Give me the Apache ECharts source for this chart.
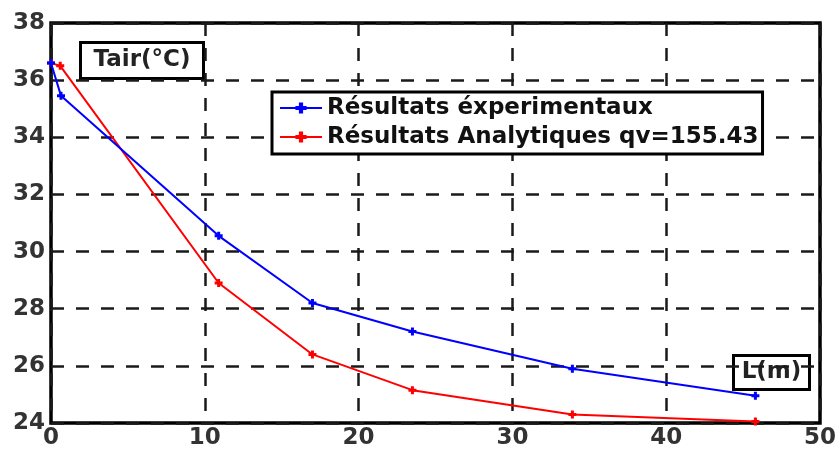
<!DOCTYPE html>
<html>
<head>
<meta charset="utf-8">
<script src="https://cdn.jsdelivr.net/npm/echarts@6/dist/echarts.min.js"></script>
<style>
  html, body { margin: 0; padding: 0; background: #fff; }
  #chart { width: 839px; height: 452px; }
</style>
</head>
<body>
<div id="chart"></div>
<script>
// Air temperature along the duct length: measurements vs analytical model
const distExp = [0, 0.65, 10.9, 17.0, 23.5, 33.9, 45.8];
const tempExp = [36.6, 35.45, 30.55, 28.2, 27.2, 25.9, 24.95];
const distAna = [0, 0.6, 10.9, 17.0, 23.5, 33.9, 45.8];
const tempAna = [36.6, 36.5, 28.9, 26.4, 25.15, 24.3, 24.05];

const seriesNames = ['Résultats éxperimentaux', 'Résultats Analytiques qv=155.43'];
const xTicks = { min: 0, max: 50, step: 10 };
const yTicks = { min: 24, max: 38, step: 2 };

const pairs = (xs, ys) => xs.map((x, i) => [x, ys[i]]);

const FONT = 'DejaVu Sans';
// chunky plus-shaped point marker
const plusMark = 'path://M2.5,0h3v2.5h2.5v3h-2.5v2.5h-3v-2.5h-2.5v-3h2.5z';
const gridLine = { color: '#1a1a1a', width: 2.5, type: [13, 12] };
const tickText = { color: '#333', fontSize: 23, fontWeight: 'bold', fontFamily: FONT };

const chart = echarts.init(document.getElementById('chart'), null, { renderer: 'canvas' });

chart.setOption({
  animation: false,
  backgroundColor: '#fff',
  textStyle: { fontFamily: FONT },
  grid: {
    left: 51, right: 19, top: 23, bottom: 29,
    show: true, borderColor: '#000', borderWidth: 3.5, backgroundColor: '#fff'
  },
  xAxis: {
    type: 'value',
    min: xTicks.min, max: xTicks.max, interval: xTicks.step,
    axisLine: { show: false },
    axisTick: { show: false },
    axisLabel: Object.assign({ margin: 4 }, tickText),
    splitLine: { show: true, lineStyle: gridLine }
  },
  yAxis: {
    type: 'value',
    min: yTicks.min, max: yTicks.max, interval: yTicks.step,
    axisLine: { show: false },
    axisTick: { show: false },
    axisLabel: Object.assign({ margin: 6 }, tickText),
    splitLine: { show: true, lineStyle: gridLine }
  },
  legend: {
    orient: 'vertical',
    left: 272, top: 92,
    padding: [4, 4, 5, 7],
    itemGap: 5,
    itemWidth: 42, itemHeight: 14,
    backgroundColor: '#fff',
    borderColor: '#000', borderWidth: 3,
    borderRadius: 0,
    textStyle: { color: '#111', fontSize: 23, fontWeight: 'bold', fontFamily: FONT, lineHeight: 24 },
    data: seriesNames
  },
  series: [
    {
      name: seriesNames[0],
      type: 'line',
      data: pairs(distExp, tempExp),
      color: '#0000ff',
      lineStyle: { color: '#0000ff', width: 2 },
      itemStyle: { color: '#0000ff' },
      symbol: plusMark, symbolSize: 8, showSymbol: true,
      z: 3
    },
    {
      name: seriesNames[1],
      type: 'line',
      data: pairs(distAna, tempAna),
      color: '#ff0000',
      lineStyle: { color: '#ff0000', width: 2 },
      itemStyle: { color: '#ff0000' },
      symbol: plusMark, symbolSize: 8, showSymbol: true,
      z: 2
    }
  ],
  graphic: [
    {
      type: 'group', left: 79, top: 41, z: 10,
      children: [
        { type: 'rect', shape: { x: 0, y: 0, width: 123, height: 36 },
          style: { fill: '#fff', stroke: '#000', lineWidth: 3 } },
        { type: 'text', x: 61.5, y: 18,
          style: { text: 'Tair(°C)', fill: '#222', font: 'bold 23px "DejaVu Sans"',
                   align: 'center', verticalAlign: 'middle' } }
      ]
    },
    {
      type: 'group', left: 732, top: 354, z: 10,
      children: [
        { type: 'rect', shape: { x: 0, y: 0, width: 76, height: 34 },
          style: { fill: '#fff', stroke: '#000', lineWidth: 3 } },
        { type: 'text', x: 38, y: 17,
          style: { text: 'L(m)', fill: '#222', font: 'bold 23px "DejaVu Sans"',
                   align: 'center', verticalAlign: 'middle' } }
      ]
    }
  ]
});
</script>
</body>
</html>
